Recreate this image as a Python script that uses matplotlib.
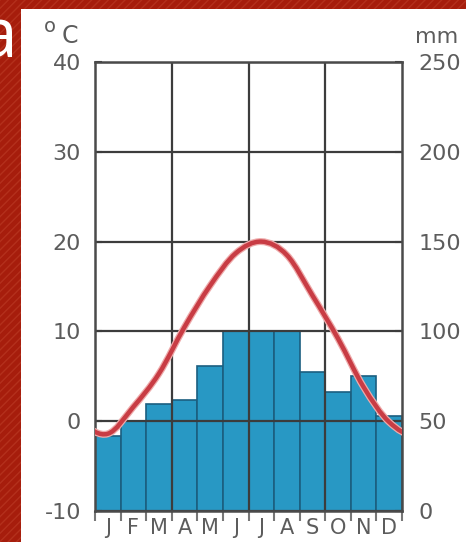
import numpy as np
import matplotlib
matplotlib.use('Agg')
import matplotlib.pyplot as plt
from matplotlib.path import Path
from matplotlib.patches import PathPatch, Rectangle
import matplotlib.patheffects as pe

# climate data
months = ['J', 'F', 'M', 'A', 'M', 'J', 'J', 'A', 'S', 'O', 'N', 'D']
temp = [-1.4, 1.6, 5.3, 10.5, 15.1, 18.7, 20.0, 18.5, 14.0, 9.2, 3.8, -0.1]
precip = [42, 50, 59.5, 62, 81, 100, 100.5, 100.5, 77.5, 66, 75, 53]
temp_ticks = [-10, 0, 10, 20, 30, 40]
precip_ticks = [0, 50, 100, 150, 200, 250]

W, H = 466, 542
grey = '#5c5c5c'
gridc = '#3c3c3c'
plt.rcParams['axes.unicode_minus'] = False
plt.rcParams['hatch.linewidth'] = 1.0

fig = plt.figure(figsize=(W / 100, H / 100), dpi=100)
fig.patch.set_facecolor('#a61d0c')
fig.patches.append(Rectangle((0, 0), 1, 1, transform=fig.transFigure,
                             facecolor='none', edgecolor='#b3301c', hatch='////',
                             lw=0, zorder=-3))
fig.patches.append(Rectangle((21 / W, 0), 1, 1 - 9 / H, transform=fig.transFigure,
                             facecolor='white', edgecolor='none', zorder=-2))

# panel letter, partly off the left edge as in the original slide
fig.text(17 / W, 1 - 57 / H, 'a', color='white', fontsize=50,
         ha='right', va='baseline', family='Open Sans')

rect = [95 / W, 31 / H, 307 / W, 449 / H]
ax = fig.add_axes(rect)
ax2 = ax.twinx()
ax.set_zorder(ax2.get_zorder() + 1)
ax.patch.set_visible(False)
ax2.patch.set_visible(False)

# precipitation bars
x = np.arange(12) + 0.5
ax2.bar(x, precip, width=1.0, color='#2898c4', edgecolor='#1b5f80', lw=1.2)
ax2.set_ylim(0, 250)
ax2.set_yticks(precip_ticks)
ax2.tick_params(axis='y', direction='in', length=5, width=1.5, color=gridc,
                labelsize=16, labelcolor=grey, pad=12)
ax2.set_xlim(0, 12)
for s in ax2.spines.values():
    s.set_visible(False)

# temperature axis + grid
ax.set_xlim(0, 12)
ax.set_ylim(-10, 40)
ax.set_yticks(temp_ticks)
ax.yaxis.grid(True, color=gridc, lw=1.6)
for xv in [3, 6, 9]:
    ax.axvline(xv, color=gridc, lw=1.6)
ax.tick_params(axis='y', direction='in', length=5, width=1.5, color=gridc,
               labelsize=16, labelcolor=grey, pad=10)
ax.set_xticks(np.arange(13))
ax.set_xticklabels([])
ax.tick_params(axis='x', which='major', direction='out', length=7, width=1.5,
               color='#777777')
ax.set_xticks(x, minor=True)
ax.set_xticklabels(months, minor=True)
ax.tick_params(axis='x', which='minor', length=0, labelsize=15,
               labelcolor=grey, pad=5)
for s in ax.spines.values():
    s.set_color('#4a4a4a')
    s.set_linewidth(1.8)

# smooth temperature curve (catmull-rom through the monthly values, wrapped)
px = np.concatenate([[-1.5, -0.5], x, [12.5, 13.5]])
py = np.concatenate([temp[-2:], temp, temp[:2]])
pts = np.column_stack([px, py])
verts = [pts[1]]
codes = [Path.MOVETO]
for i in range(1, len(pts) - 2):
    c1 = pts[i] + (pts[i + 1] - pts[i - 1]) / 6
    c2 = pts[i + 1] - (pts[i + 2] - pts[i]) / 6
    verts += [c1, c2, pts[i + 1]]
    codes += [Path.CURVE4] * 3
curve = PathPatch(Path(verts, codes), fill=False, edgecolor='#c83c44', lw=3.2,
                  zorder=5, capstyle='butt')
curve.set_path_effects([pe.Stroke(linewidth=5, foreground='#eeaaaa'), pe.Normal()])
ax.add_patch(curve)

fig.text(44 / W, 1 - 32 / H, 'o', color=grey, fontsize=14, va='baseline')
fig.text(62 / W, 1 - 43 / H, 'C', color=grey, fontsize=17, va='baseline')
fig.text(415 / W, 1 - 43 / H, 'mm', color=grey, fontsize=16, va='baseline')

fig.savefig('out.png', dpi=100, facecolor=fig.get_facecolor())
